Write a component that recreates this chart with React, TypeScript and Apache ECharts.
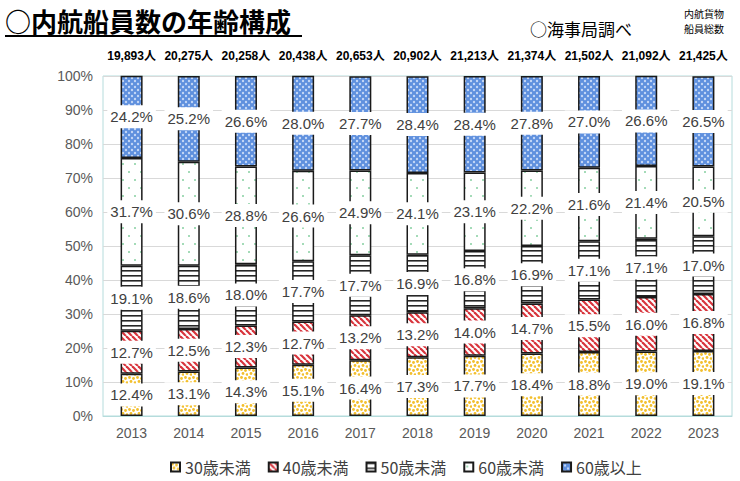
import React, { useEffect, useRef } from "react";
import * as echarts from "echarts";

const years = ["2013", "2014", "2015", "2016", "2017", "2018", "2019", "2020", "2021", "2022", "2023"];
const totals = ["19,893", "20,275", "20,258", "20,438", "20,653", "20,902", "21,213", "21,374", "21,502", "21,092", "21,425"];
const under30 = [12.4, 13.1, 14.3, 15.1, 16.4, 17.3, 17.7, 18.4, 18.8, 19.0, 19.1];
const under40 = [12.7, 12.5, 12.3, 12.7, 13.2, 13.2, 14.0, 14.7, 15.5, 16.0, 16.8];
const under50 = [19.1, 18.6, 18.0, 17.7, 17.7, 16.9, 16.8, 16.9, 17.1, 17.1, 17.0];
const under60 = [31.7, 30.6, 28.8, 26.6, 24.9, 24.1, 23.1, 22.2, 21.6, 21.4, 20.5];
const over60 = [24.2, 25.2, 26.6, 28.0, 27.7, 28.4, 28.4, 27.8, 27.0, 26.6, 26.5];
const seriesNames = ["30歳未満", "40歳未満", "50歳未満", "60歳未満", "60歳以上"];

function tile(w: number, h: number, draw: (ctx: CanvasRenderingContext2D) => void) {
  const c = document.createElement("canvas");
  c.width = w;
  c.height = h;
  const ctx = c.getContext("2d") as CanvasRenderingContext2D;
  draw(ctx);
  return { image: c.toDataURL(), repeat: "repeat", imageWidth: w, imageHeight: h } as any;
}

function dot(ctx: CanvasRenderingContext2D, x: number, y: number, r: number) {
  ctx.beginPath();
  ctx.arc(x, y, r, 0, Math.PI * 2);
  ctx.fill();
}

function makePatterns() {
  const yellow = tile(8, 8, (ctx) => {
    ctx.fillStyle = "#ffffff";
    ctx.fillRect(0, 0, 8, 8);
    ctx.fillStyle = "#f3bf2c";
    dot(ctx, 1.5, 1.5, 1.4);
    dot(ctx, 5.5, 2.5, 1.4);
    dot(ctx, 3, 5.5, 1.4);
    dot(ctx, 7, 6.5, 1.3);
  });
  const red = tile(6, 6, (ctx) => {
    ctx.fillStyle = "#ffffff";
    ctx.fillRect(0, 0, 6, 6);
    ctx.strokeStyle = "#d8343c";
    ctx.lineWidth = 2.2;
    for (const x of [-6, 0, 6]) {
      ctx.beginPath();
      ctx.moveTo(x, 0);
      ctx.lineTo(x + 6, 6);
      ctx.stroke();
    }
  });
  const lines = tile(4, 5, (ctx) => {
    ctx.fillStyle = "#ffffff";
    ctx.fillRect(0, 0, 4, 5);
    ctx.fillStyle = "#262626";
    ctx.fillRect(0, 0, 4, 1.6);
  });
  const green = tile(12, 16, (ctx) => {
    ctx.fillStyle = "#ffffff";
    ctx.fillRect(0, 0, 12, 16);
    ctx.fillStyle = "#86cfa0";
    dot(ctx, 3, 4, 1);
    dot(ctx, 9, 12, 1);
  });
  const blue = tile(6, 6, (ctx) => {
    ctx.fillStyle = "#5f90de";
    ctx.fillRect(0, 0, 6, 6);
    ctx.fillStyle = "#c3d7f5";
    for (const [x, y] of [[0, 0], [6, 0], [0, 6], [6, 6], [3, 3]]) dot(ctx, x, y, 1.2);
  });
  return [yellow, red, lines, green, blue];
}

export default function App() {
  const ref = useRef<HTMLDivElement>(null);
  useEffect(() => {
    document.body.style.margin = "0";
    if (!ref.current) return;
    const chart = echarts.init(ref.current, undefined, { renderer: "svg" });
    const patterns = makePatterns();
    const dataSets = [under30, under40, under50, under60, over60];
    const series = seriesNames.map((name, i) => ({
      name,
      type: "bar",
      stack: "total",
      barWidth: 22,
      data: dataSets[i],
      itemStyle: { color: patterns[i], borderColor: "#1a1a1a", borderWidth: 1.5 },
      label: {
        show: true,
        position: "inside",
        formatter: (p: any) => Number(p.value).toFixed(1) + "%",
        backgroundColor: "#ffffff",
        padding: [4, 3],
        fontSize: 15,
        color: "#404040",
      },
      emphasis: { disabled: true },
    }));
    chart.setOption({
      animation: false,
      textStyle: { fontFamily: 'Arial, "Liberation Sans", "Noto Sans CJK JP", sans-serif' },
      grid: { left: 103, right: 8, top: 76, bottom: 65, show: true, borderColor: "#b5dcdc", borderWidth: 1 },
      legend: {
        left: 165,
        top: 454,
        icon: "rect",
        itemWidth: 9,
        itemHeight: 9,
        itemGap: 17,
        data: seriesNames,
        textStyle: { fontSize: 16, color: "#404040", fontFamily: '"Noto Sans CJK JP", Arial, sans-serif' },
      },
      xAxis: [
        {
          type: "category",
          data: years,
          axisLine: { lineStyle: { color: "#b5dcdc" } },
          axisTick: { show: false },
          axisLabel: { fontSize: 14, color: "#595959", margin: 10 },
        },
        {
          type: "category",
          position: "top",
          data: totals.map((t) => t + "人"),
          axisLine: { show: false },
          axisTick: { show: false },
          axisLabel: { interval: 0, fontSize: 12, fontWeight: "bold", color: "#000000", margin: 14 },
        },
      ],
      yAxis: {
        type: "value",
        min: 0,
        max: 100,
        interval: 10,
        axisLine: { show: false },
        axisTick: { show: false },
        axisLabel: { formatter: "{value}%", fontSize: 14, color: "#595959", margin: 10 },
        splitLine: { lineStyle: { color: "#d9d9d9" } },
      },
      graphic: [
        {
          type: "text",
          left: 5,
          top: 7,
          style: {
            text: "○内航船員数の年齢構成",
            fontSize: 26,
            fontWeight: "bold",
            fontFamily: '"Noto Sans CJK JP", sans-serif',
            fill: "#000000",
          },
        },
        {
          type: "line",
          shape: { x1: 5, y1: 36, x2: 302, y2: 36 },
          style: { stroke: "#000000", lineWidth: 2 },
        },
        {
          type: "text",
          left: 530,
          top: 20,
          style: {
            text: "○海事局調べ",
            fontSize: 17,
            fontFamily: '"Noto Sans CJK JP", sans-serif',
            fill: "#000000",
          },
        },
        {
          type: "text",
          left: 684,
          top: 8,
          style: {
            text: "内航貨物",
            fontSize: 10,
            fontFamily: '"Noto Sans CJK JP", sans-serif',
            fill: "#000000",
          },
        },
        {
          type: "text",
          left: 684,
          top: 23,
          style: {
            text: "船員総数",
            fontSize: 10,
            fontFamily: '"Noto Sans CJK JP", sans-serif',
            fill: "#000000",
          },
        },
      ],
      series,
    });
    return () => chart.dispose();
  }, []);
  return <div ref={ref} style={{ width: 740, height: 481 }} />;
}
